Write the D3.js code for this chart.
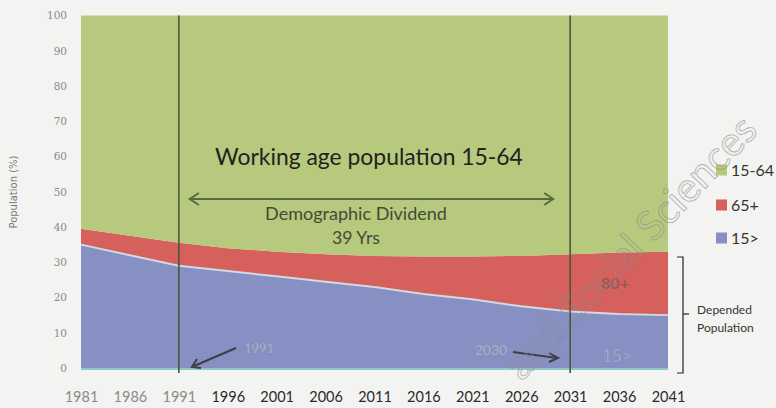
<!DOCTYPE html>
<html><head><meta charset="utf-8">
<script src="https://cdn.jsdelivr.net/npm/d3@7"></script>
<style>
html,body{margin:0;padding:0;background:#f3f3f1;}
svg{display:block;}
</style></head>
<body>
<svg id="chart" width="776" height="408"></svg>
<script>
// ---- data ----
const years = [1981,1986,1991,1996,2001,2006,2011,2016,2021,2026,2031,2036,2041];
const under15 = [35,32,29,27.5,26,24.5,23,21,19.5,17.5,16,15.3,15];
const over65  = [4.5,5.5,6.5,6.5,7,7.8,8.8,10.6,12.1,14.3,16.3,17.5,18];
const working = [60.5,62.5,64.5,66,67,67.7,68.2,68.4,68.4,68.2,67.7,67.2,67];
const yTicks = [0,10,20,30,40,50,60,70,80,90,100];
const legendLabels = ["15-64","65+","15>"];
const markerYears = [1991,2031];

const svg = d3.select("#chart");
const W = 776, H = 408;
const m = {left:81, right:108, top:15.5, bottom:40};
const x = d3.scaleLinear().domain([1981,2041]).range([m.left, W-m.right]);
const y = d3.scaleLinear().domain([0,100]).range([H-m.bottom, m.top]);

const rows = years.map((yr,i)=>({year:yr, under15:under15[i], over65:over65[i], working:working[i]}));
const keys = ["under15","over65","working"];
const colors = {under15:"#8790c2", over65:"#d6605c", working:"#b6c97c"};
const series = d3.stack().keys(keys)(rows);

const area = d3.area().x(d=>x(d.data.year)).y0(d=>y(d[0])).y1(d=>y(d[1]));
svg.append("g").selectAll("path").data(series).join("path")
  .attr("d", area).attr("fill", d=>colors[d.key]);

// pale line on top of blue area
svg.append("path").datum(series[0])
  .attr("d", d3.line().x(d=>x(d.data.year)).y(d=>y(d[1])))
  .attr("fill","none").attr("stroke","#d5eaf0").attr("stroke-width",2).attr("opacity",0.85);
// bottom teal edge
svg.append("line").attr("x1",x(1981)).attr("x2",x(2041)).attr("y1",y(0)+1).attr("y2",y(0)+1)
  .attr("stroke","#8cc9c6").attr("stroke-width",2);

// vertical marker lines
svg.append("g").selectAll("line").data(markerYears).join("line")
  .attr("x1",d=>x(d)).attr("x2",d=>x(d)).attr("y1",y(100)).attr("y2",y(0)+5)
  .attr("stroke","#4b5838").attr("stroke-width",1.6);

// y axis
const ya = svg.append("g").attr("transform",`translate(${m.left-14},0)`)
  .call(d3.axisLeft(y).tickValues(yTicks).tickSize(0).tickPadding(0));
ya.select(".domain").remove();
ya.selectAll("text").attr("font-family","DejaVu Serif").attr("font-size",10.5).attr("fill","#8a8a8a");
svg.append("text").attr("transform","translate(17,192) rotate(-90)")
  .attr("text-anchor","middle").attr("font-family","DejaVu Sans").attr("font-size",10)
  .attr("fill","#7a7a7a").text("Population (%)");

// x axis
const xa = svg.append("g").attr("transform",`translate(0,${H-6})`)
  .call(d3.axisBottom(x).tickValues(years).tickFormat(d3.format("d")).tickSize(0).tickPadding(0));
xa.select(".domain").remove();
xa.selectAll("text").attr("dy",0).attr("font-family","Lato").attr("font-size",14.5)
  .attr("fill",(d,i)=> i<3 ? "#8a8a8a" : "#2a2a2a");

function fit(sel, w){ const n=sel.node(); const cur=+sel.attr("font-size"); const l=n.getComputedTextLength(); sel.attr("font-size", cur*w/l); return sel; }

// annotations
fit(svg.append("text").attr("x",369).attr("y",165).attr("text-anchor","middle")
  .attr("font-family","Lato").attr("font-size",22).attr("fill","#222")
  .text("Working age population 15-64"), 308);

// double arrow
const ag = svg.append("g").attr("stroke","#5b6942").attr("stroke-width",2).attr("fill","none");
ag.append("line").attr("x1",x(1991)+10).attr("x2",x(2031)-17).attr("y1",199).attr("y2",199);
ag.append("path").attr("d",`M${x(1991)+20},193 L${x(1991)+11},199 L${x(1991)+20},205`);
ag.append("path").attr("d",`M${x(2031)-26},193 L${x(2031)-17},199 L${x(2031)-26},205`);

fit(svg.append("text").attr("x",356).attr("y",220).attr("text-anchor","middle")
  .attr("font-family","Lato").attr("font-size",15).attr("fill","#45493a")
  .text("Demographic Dividend"), 182);
fit(svg.append("text").attr("x",356).attr("y",244).attr("text-anchor","middle")
  .attr("font-family","Lato").attr("font-size",15).attr("fill","#45493a")
  .text("39 Yrs"), 48);

svg.append("text").attr("x",615).attr("y",289).attr("text-anchor","middle")
  .attr("font-family","Lato").attr("font-size",16).attr("font-weight","bold").attr("fill","#9a5656").text("80+");
svg.append("text").attr("x",617).attr("y",362).attr("text-anchor","middle")
  .attr("font-family","Lato").attr("font-size",17).attr("fill","#b3b9d6").attr("stroke","#7d83a3").attr("stroke-width",0.4).text("15>");
svg.append("text").attr("x",259).attr("y",353).attr("text-anchor","middle")
  .attr("font-family","Lato").attr("font-size",13).attr("fill","#c3c6da").attr("stroke","#777b95").attr("stroke-width",0.3).text("1991");
svg.append("text").attr("x",491).attr("y",355).attr("text-anchor","middle")
  .attr("font-family","Lato").attr("font-size",14).attr("fill","#c3c6da").attr("stroke","#777b95").attr("stroke-width",0.3).text("2030");

const sg = svg.append("g").attr("stroke","#3e3e48").attr("stroke-width",2).attr("fill","none");
sg.append("line").attr("x1",236).attr("y1",348).attr("x2",194).attr("y2",366);
sg.append("path").attr("d","M197,359 L192,367 L201,368");
sg.append("line").attr("x1",513).attr("y1",352).attr("x2",557).attr("y2",358);
sg.append("path").attr("d","M549,353 L558,358 L549,362");

// legend
const lg = svg.append("g");
const lkeys = ["working","over65","under15"];
const ly = [170,205,238];
lkeys.forEach((k,i)=>{
  lg.append("rect").attr("x",716).attr("y",ly[i]-5.5).attr("width",11).attr("height",11).attr("fill",colors[k]);
  lg.append("text").attr("x",731).attr("y",ly[i]+5.5).attr("font-family","Lato").attr("font-size",16)
    .attr("fill","#333").text(legendLabels[i]);
});

// bracket
const bg = svg.append("g").attr("stroke","#222").attr("stroke-width",1.2).attr("fill","none");
bg.append("path").attr("d","M677,257 L683,257 L683,373 L677,373");
bg.append("line").attr("x1",683).attr("x2",689).attr("y1",314).attr("y2",314);
svg.append("text").attr("x",697).attr("y",314).attr("font-family","Lato").attr("font-size",12)
  .attr("fill","#333").text("Depended");
svg.append("text").attr("x",697).attr("y",332).attr("font-family","Lato").attr("font-size",12)
  .attr("fill","#333").text("Population");

// watermark
fit(svg.append("text").attr("transform","translate(522,382) rotate(-46.5)")
  .attr("font-family","Lato").attr("font-size",34).attr("fill","none")
  .attr("stroke","#8c8c8c").attr("stroke-width",0.9).attr("opacity",0.6)
  .text("and Social Sciences"), 345);
</script>
</body></html>
